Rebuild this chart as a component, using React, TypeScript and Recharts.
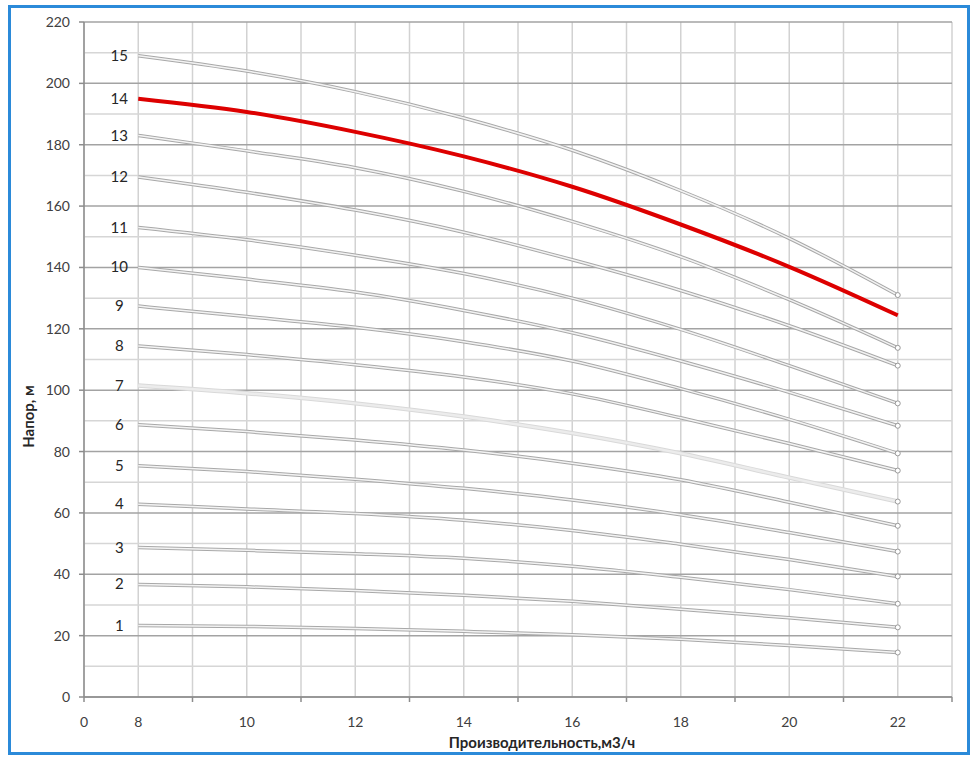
import React from 'react'
import { LineChart, Line, XAxis, YAxis, CartesianGrid, ReferenceLine } from 'recharts'

// flow rate, m3/h
const flows = [8, 10, 12, 14, 16, 18, 20, 22]

// head per stage count, m
const head1 = [23.3, 23, 22.3, 21.4, 20.3, 18.8, 16.8, 14.5]
const head2 = [36.7, 35.9, 34.7, 33.2, 31.2, 28.6, 25.8, 22.7]
const head3 = [48.7, 47.8, 46.7, 45.2, 42.6, 39, 35, 30.4]
const head4 = [62.8, 61.3, 59.8, 57.6, 54.3, 49.8, 44.8, 39.3]
const head5 = [75.4, 73.5, 71, 68, 64.2, 59.4, 53.6, 47.4]
const head6 = [88.7, 86.5, 83.8, 80.5, 76.2, 70.8, 63.5, 55.8]
const head7 = [101.5, 99, 95.7, 91.4, 86, 79.4, 71.5, 63.7]
const head8 = [114.4, 111.6, 108.3, 104.3, 98.8, 91, 82.6, 73.8]
const head9 = [127.4, 124, 120.5, 115.8, 109.5, 100.5, 90.5, 79.4]
const head10 = [140, 136.2, 132, 126, 118.7, 109.5, 99.3, 88.4]
const head11 = [153, 149, 144, 138, 130, 119.8, 108, 95.7]
const head12 = [169.5, 164.5, 158.7, 151.5, 142.5, 132.5, 121, 108]
const head13 = [183, 178, 172.5, 164.8, 155, 143.5, 129.5, 113.8]
const head14 = [195, 190.7, 184.2, 176.2, 166.3, 154, 140.2, 124.4]
const head15 = [209, 204, 197.3, 188.7, 178.2, 165, 149.5, 131]

const heads = [head1, head2, head3, head4, head5, head6, head7, head8, head9, head10, head11, head12, head13, head14, head15]
const curveNames = ['1', '2', '3', '4', '5', '6', '7', '8', '9', '10', '11', '12', '13', '14', '15']
const highlighted = '14'
const faded = '7'

// x axis is broken: first slot is labelled 0, then 8..22
const xTicks = [7, 8, 9, 10, 11, 12, 13, 14, 15, 16, 17, 18, 19, 20, 21, 22, 23]
const xBreakLabel = '0'
const yTicks = [0, 20, 40, 60, 80, 100, 120, 140, 160, 180, 200, 220]
const yMinor = [10, 30, 50, 70, 90, 110, 130, 150, 170, 190, 210]

const xTitle = 'Производительность,м3/ч'
const yTitle = 'Напор, м'

const data = flows.map((q, i) => {
  const row: Record<string, number> = { q }
  heads.forEach((h, k) => { row['s' + curveNames[k]] = h[i] })
  return row
})

const FONT = 'Lato, "Open Sans", sans-serif'

const XTick = (props: any) => {
  const { x, y, payload } = props
  const v = payload.value
  const text = v === xTicks[0] ? xBreakLabel : v % 2 === 0 ? String(v) : ''
  return (
    <g>
      {v % 2 === 1 && <line x1={x} x2={x} y1={y - 5} y2={y} stroke="#8c8c8c" strokeWidth={1.5} />}
      {text && (
        <text x={x} y={y} dy={25} textAnchor="middle" fill="#404040" fontSize={14} fontFamily={FONT}>{text}</text>
      )}
    </g>
  )
}

const endDot = (props: any) => {
  const { cx, cy, index, key } = props
  if (index !== flows.length - 1) return <g key={key} />
  return <circle key={key} cx={cx} cy={cy} r={2.5} fill="#fff" stroke="#9a9a9a" strokeWidth={1} />
}

const curveLabel = (name: string) => (props: any) => {
  const { x, y, index } = props
  if (index !== 0) return <g />
  return (
    <text x={x - 19} y={y} dy={5} textAnchor="middle" fill="#262626" fontSize={15} fontFamily={FONT}>{name}</text>
  )
}

export default function App() {
  return (
    <div style={{ position: 'absolute', left: 0, top: 0, width: 980, height: 765, background: '#fff' }}>
      <div style={{ position: 'absolute', left: 8, top: 5, width: 962, height: 750, border: '3px solid #2b8ad9', boxSizing: 'border-box' }} />
      <LineChart width={980} height={765} data={data} margin={{ top: 22, right: 28, bottom: 28, left: 24 }}>
        <CartesianGrid horizontal={false} stroke="#d2d2d2" strokeWidth={1.5} />
        {yMinor.map((v) => (
          <ReferenceLine key={v} y={v} stroke="#d6d6d6" strokeWidth={1.5} />
        ))}
        <CartesianGrid vertical={false} stroke="#a3a3a3" strokeWidth={1.5} />
        <XAxis
          dataKey="q"
          type="number"
          domain={[7, 23]}
          ticks={xTicks}
          interval={0}
          tick={XTick}
          tickLine={false}
          tickSize={5}
          tickMargin={0}
          height={40}
          axisLine={{ stroke: '#8c8c8c', strokeWidth: 1.5 }}
          label={{
            content: (p: any) => {
              const vb = p.viewBox
              return (
                <text x={vb.x + vb.width / 2 + 24} y={vb.y + 51} textAnchor="middle" fill="#262626" fontSize={15} fontWeight="bold" fontFamily={FONT}>{xTitle}</text>
              )
            },
          }}
        />
        <YAxis
          type="number"
          domain={[0, 220]}
          ticks={yTicks}
          interval={0}
          width={60}
          tickSize={5}
          tickMargin={9}
          tick={{ fill: '#404040', fontSize: 14, fontFamily: FONT }}
          tickLine={{ stroke: '#8c8c8c', strokeWidth: 1.5 }}
          axisLine={{ stroke: '#8c8c8c', strokeWidth: 1.5 }}
          label={{
            content: (p: any) => {
              const vb = p.viewBox
              const cx = vb.x + 4
              const cy = vb.y + vb.height / 2 + 57
              return (
                <text x={cx} y={cy} transform={`rotate(-90, ${cx}, ${cy})`} textAnchor="middle" dominantBaseline="central" fill="#262626" fontSize={15} fontWeight="bold" fontFamily={FONT}>{yTitle}</text>
              )
            },
          }}
        />
        {curveNames.filter((n) => n !== highlighted).map((n) => [
          <Line
            key={'o' + n}
            type="monotone"
            dataKey={'s' + n}
            stroke={n === faded ? '#d9d9d9' : '#a8a8a8'}
            strokeWidth={n === faded ? 4.5 : 3.5}
            dot={endDot}
            activeDot={false}
            label={curveLabel(n)}
            isAnimationActive={false}
          />,
          <Line
            key={'i' + n}
            type="monotone"
            dataKey={'s' + n}
            stroke={n === faded ? '#ececec' : '#f3f3f3'}
            strokeWidth={n === faded ? 2.5 : 1.5}
            dot={false}
            activeDot={false}
            isAnimationActive={false}
          />,
        ])}
        <Line
          type="monotone"
          dataKey={'s' + highlighted}
          stroke="#dd0000"
          strokeWidth={4}
          dot={false}
          activeDot={false}
          label={curveLabel(highlighted)}
          isAnimationActive={false}
        />
      </LineChart>
    </div>
  )
}
